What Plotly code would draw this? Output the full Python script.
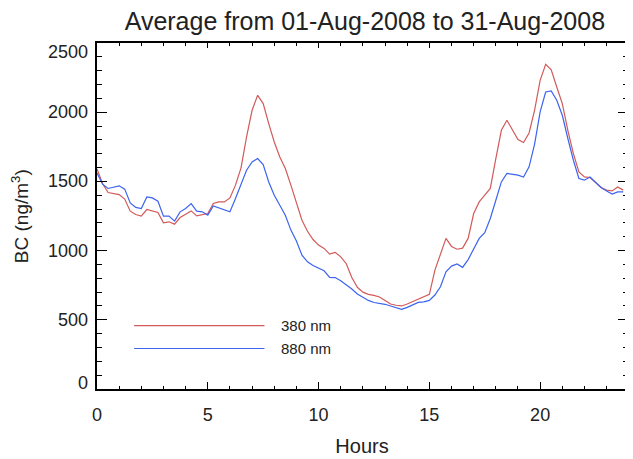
import plotly.graph_objects as go

hours = [i * 0.25 for i in range(96)]

bc_380 = [1590, 1485, 1420, 1413, 1405, 1372, 1285, 1261, 1249, 1297, 1285, 1275,
          1201, 1208, 1191, 1239, 1263, 1287, 1251, 1261, 1268, 1340, 1352, 1352,
          1381, 1473, 1598, 1821, 2014, 2122, 2062, 1918, 1785, 1677, 1593, 1473,
          1350, 1220, 1140, 1080, 1040, 1016, 975, 987, 955, 905, 805, 735,
          700, 684, 676, 665, 640, 614, 605, 600, 614, 632, 652, 668,
          684, 859, 968, 1088, 1030, 1010, 1018, 1088, 1268, 1352, 1400, 1449,
          1665, 1869, 1942, 1869, 1802, 1781, 1850, 2015, 2230, 2346, 2307, 2182,
          2062, 1869, 1701, 1569, 1532, 1528, 1492, 1456, 1437, 1431, 1460, 1437]

bc_880 = [1561, 1480, 1449, 1460, 1468, 1444, 1345, 1312, 1304, 1388, 1381, 1357,
          1249, 1249, 1213, 1280, 1304, 1340, 1285, 1280, 1256, 1323, 1309, 1297,
          1280, 1376, 1485, 1581, 1641, 1665, 1622, 1496, 1400, 1323, 1256, 1148,
          1070, 967, 919, 892, 870, 854, 807, 805, 782, 755, 722, 686,
          660, 640, 625, 619, 612, 600, 588, 576, 590, 610, 626, 630,
          640, 679, 739, 847, 888, 903, 879, 935, 1016, 1088, 1130, 1232,
          1364, 1496, 1557, 1550, 1545, 1532, 1605, 1770, 2002, 2146, 2153, 2086,
          1978, 1810, 1653, 1521, 1509, 1532, 1492, 1456, 1431, 1408, 1424, 1424]

series_names = ["380 nm", "880 nm"]
series_colors = ["#d25a5a", "#3c64f0"]
x_ticks = [0, 5, 10, 15, 20]
y_ticks = [0, 500, 1000, 1500, 2000, 2500]
x_range = [0, 23.92]
y_range = [0, 2500]

FONT = "Liberation Sans, Arial, Helvetica, sans-serif"
TXT = "#222222"

fig = go.Figure()
for vals, name, col in zip([bc_380, bc_880], series_names, series_colors):
    fig.add_trace(go.Scatter(x=hours, y=vals, mode="lines", name=name,
                             line=dict(color=col, width=1.2), showlegend=False))
# empty trace so the top/right tick axes are drawn
fig.add_trace(go.Scatter(x=[], y=[], xaxis="x2", yaxis="y2", showlegend=False,
                         hoverinfo="skip"))

base = dict(showgrid=False, zeroline=False, tickcolor="#000", tickwidth=1.2, ticks="inside")

fig.update_layout(
    xaxis=dict(range=x_range, tickvals=x_ticks, ticklen=7, showline=True, linecolor="#000",
               linewidth=1.5, mirror=True, ticklabelstandoff=9,
               tickfont=dict(size=18, color=TXT, family=FONT),
               minor=dict(dtick=1, ticklen=3.5, ticks="inside", tickcolor="#000", tickwidth=1),
               title=dict(text="Hours", font=dict(size=20, color=TXT, family=FONT), standoff=15),
               **base),
    yaxis=dict(range=y_range, tickvals=y_ticks, ticklen=10, showticklabels=False,
               showline=True, linecolor="#000", linewidth=1.5, mirror=True,
               minor=dict(dtick=100, ticklen=5, ticks="inside", tickcolor="#000", tickwidth=1),
               **base),
    xaxis2=dict(overlaying="x", side="top", range=x_range, tickvals=x_ticks, ticklen=5,
                showticklabels=False, showline=False,
                minor=dict(dtick=1, ticklen=3, ticks="inside", tickcolor="#000", tickwidth=1),
                **base),
    yaxis2=dict(overlaying="y", side="right", range=y_range, tickvals=y_ticks, ticklen=9,
                showticklabels=False, showline=False,
                minor=dict(dtick=100, ticklen=4.5, ticks="inside", tickcolor="#000", tickwidth=1),
                **base),
)

# y tick labels (end labels nudged inward as in the reference)
for v in y_ticks:
    shift = 0
    if v == y_ticks[0]:
        shift = 6
    elif v == y_ticks[-1]:
        shift = -9
    fig.add_annotation(x=0, xref="paper", xanchor="right", xshift=-7,
                       y=v, yref="y", yanchor="middle", yshift=shift,
                       text=str(v), showarrow=False,
                       font=dict(size=18, color=TXT, family=FONT))

# y axis title
fig.add_annotation(x=-0.145, xref="paper", y=0.5, yref="paper", textangle=-90,
                   text="BC (ng/m<sup>3</sup>)", showarrow=False,
                   xanchor="center", yanchor="middle",
                   font=dict(size=19, color=TXT, family=FONT))

# legend drawn inside the plot
leg_y = [0.183, 0.117]
for name, col, ly in zip(series_names, series_colors, leg_y):
    fig.add_shape(type="line", xref="paper", yref="paper", x0=0.070, x1=0.316,
                  y0=ly, y1=ly, line=dict(color=col, width=1.2))
    fig.add_annotation(x=0.344, xref="paper", y=ly, yref="paper", xanchor="left",
                       yanchor="middle", text=name, showarrow=False,
                       font=dict(size=15, color=TXT, family=FONT))

fig.update_layout(
    width=625, height=451,
    margin=dict(l=89, r=4, t=35, b=70),
    paper_bgcolor="white", plot_bgcolor="white",
    title=dict(text="Average from 01-Aug-2008 to 31-Aug-2008", x=0.571, xanchor="center",
               y=0.971, yanchor="middle",
               font=dict(size=25, color=TXT, family=FONT)),
)

fig.write_html("out.html")
